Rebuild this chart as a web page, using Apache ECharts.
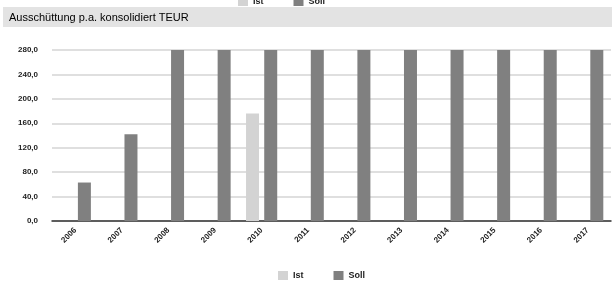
<!DOCTYPE html>
<html><head><meta charset="utf-8">
<script src="https://cdn.jsdelivr.net/npm/echarts@6/dist/echarts.min.js"></script>
<style>html,body{margin:0;padding:0;background:#fff}#c{width:612px;height:282px}</style>
</head><body><div id="c"></div>
<script>
const categories = ['2006','2007','2008','2009','2010','2011','2012','2013','2014','2015','2016','2017'];
const istValues = [null,null,null,null,176,null,null,null,null,null,null,null];
const sollValues = [63,142,280,280,280,280,280,280,280,280,280,280];
const yTicks = {min:0,max:280,interval:40};
const titleText = 'Ausschüttung p.a. konsolidiert TEUR';

const chart = echarts.init(document.getElementById('c'), null, {renderer:'canvas'});
const legendStyle = {icon:'rect', itemWidth:10, itemHeight:9, itemGap:30,
  textStyle:{fontSize:9, color:'#222', fontFamily:'Liberation Sans', fontWeight:'bold'}, data:['Ist','Soll']};
chart.setOption({
  animation:false,
  graphic:[{type:'rect', left:3, top:7, shape:{width:609, height:20}, style:{fill:'#e3e3e3'}, z:-1},
           {type:'text', left:9, top:12, style:{text:titleText, fontSize:11, fontFamily:'Liberation Sans', fill:'#000'}}],
  legend:[Object.assign({left:233, top:-8}, legendStyle), Object.assign({left:273, top:266}, legendStyle)],
  grid:{left:52, right:1, top:50, bottom:61},
  xAxis:{type:'category', data:categories,
    axisLine:{lineStyle:{color:'#333', width:1.5}}, axisTick:{show:false},
    axisLabel:{rotate:45, fontSize:8, color:'#222', fontFamily:'Liberation Sans', fontWeight:'bold', margin:8}},
  yAxis:{type:'value', min:yTicks.min, max:yTicks.max, interval:yTicks.interval,
    axisLine:{show:false}, axisTick:{show:false},
    splitLine:{lineStyle:{color:'#d4d4d4', width:1.5}},
    axisLabel:{fontSize:8, color:'#222', fontFamily:'Liberation Sans', fontWeight:'bold', margin:14,
      formatter:v=>v.toFixed(1).replace('.',',')}},
  series:[
    {name:'Ist', type:'bar', data:istValues, barWidth:13, barGap:'40%', itemStyle:{color:'#d3d3d3'}},
    {name:'Soll', type:'bar', data:sollValues, barWidth:13, barGap:'40%', itemStyle:{color:'#808080'}}
  ]
});
</script></body></html>
